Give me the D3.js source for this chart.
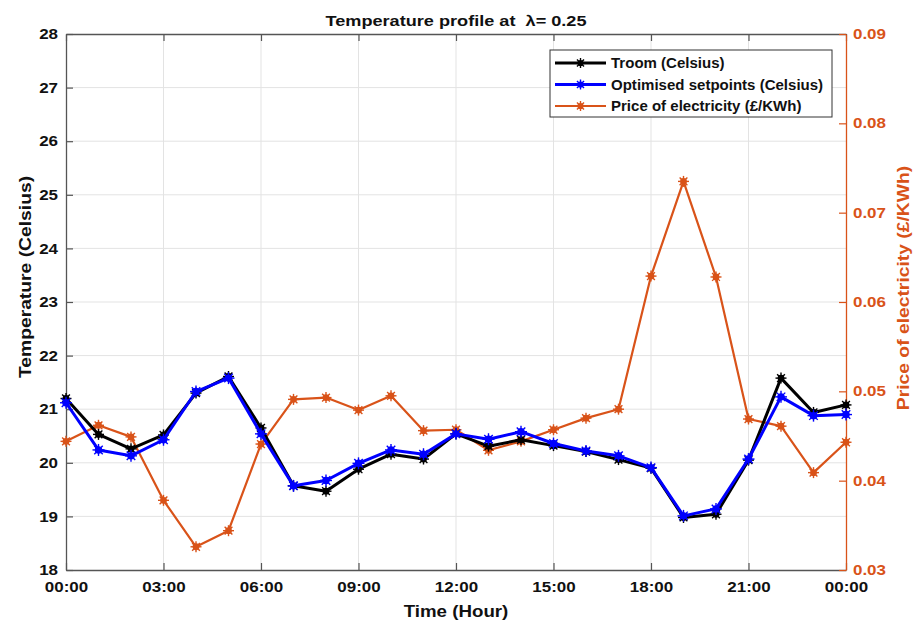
<!DOCTYPE html>
<html>
<head>
<meta charset="utf-8">
<script src="https://cdn.jsdelivr.net/npm/d3@7"></script>
<style>
  html, body { margin: 0; padding: 0; background: #ffffff; }
  svg { display: block; font-family: "Liberation Sans", Arial, sans-serif; }
</style>
</head>
<body>
<svg id="chart" width="915" height="624"></svg>
<script>
// Hourly samples over one day
const hours = [0, 1, 2, 3, 4, 5, 6, 7, 8, 9, 10, 11, 12, 13, 14, 15, 16, 17, 18, 19, 20, 21, 22, 23, 24];

// Room temperature (Celsius)
const troom = [21.20, 20.53, 20.26, 20.52, 21.30, 21.61, 20.65, 19.57, 19.47, 19.88, 20.16, 20.07, 20.54,
               20.31, 20.43, 20.32, 20.21, 20.06, 19.90, 18.98, 19.04, 20.05, 21.58, 20.94, 21.08];

// Optimised setpoints (Celsius)
const setpoints = [21.12, 20.24, 20.13, 20.43, 21.33, 21.58, 20.54, 19.57, 19.67, 19.99, 20.24, 20.16, 20.54,
                   20.44, 20.58, 20.36, 20.22, 20.13, 19.91, 19.01, 19.14, 20.07, 21.23, 20.88, 20.90];

// Price of electricity (£/KWh)
const price = [0.0444, 0.0462, 0.0449, 0.0378, 0.0326, 0.0344, 0.0441, 0.0491, 0.0493, 0.0479, 0.0495, 0.0456, 0.0457,
               0.0434, 0.0444, 0.0457, 0.0470, 0.0480, 0.0629, 0.0735, 0.0628, 0.0469, 0.0461, 0.0409, 0.0443];

// Axis ticks
const xTicks = [0, 3, 6, 9, 12, 15, 18, 21, 24];
const xTickLabels = ["00:00", "03:00", "06:00", "09:00", "12:00", "15:00", "18:00", "21:00", "00:00"];
const tempTicks = [18, 19, 20, 21, 22, 23, 24, 25, 26, 27, 28];
const priceTicks = [0.03, 0.04, 0.05, 0.06, 0.07, 0.08, 0.09];

const seriesNames = ["Troom (Celsius)", "Optimised setpoints (Celsius)", "Price of electricity (£/KWh)"];

const ORANGE = "#D95319";
const AXIS = "#555555";
const GRID = "#e3e3e3";
const WIDEN = 1.17;   // horizontal widening of the lettering

const svg = d3.select("#chart");
const plotL = 66, plotR = 846, plotT = 34, plotB = 570;

const x = d3.scaleLinear().domain([0, 24]).range([plotL, plotR]);
const yT = d3.scaleLinear().domain([18, 28]).range([plotB, plotT]);
const yP = d3.scaleLinear().domain([0.03, 0.09]).range([plotB, plotT]);

// grid
const grid = svg.append("g");
grid.selectAll("line.gx").data(xTicks.slice(1, -1)).join("line")
  .attr("x1", d => x(d)).attr("x2", d => x(d))
  .attr("y1", plotT).attr("y2", plotB)
  .attr("stroke", GRID).attr("stroke-width", 1);
grid.selectAll("line.gy").data(tempTicks.slice(1, -1)).join("line")
  .attr("y1", d => yT(d)).attr("y2", d => yT(d))
  .attr("x1", plotL).attr("x2", plotR)
  .attr("stroke", GRID).attr("stroke-width", 1);

// axes
function styleAxis(g, color) {
  g.select(".domain").attr("stroke", color).attr("stroke-width", 1.3);
  g.selectAll(".tick line").attr("stroke", color).attr("stroke-width", 1.2);
  g.selectAll(".tick text")
    .attr("fill", color === ORANGE ? ORANGE : "#111")
    .attr("font-size", 14.5).attr("font-weight", "bold")
    .each(function () {
      const t = d3.select(this);
      const tx = +t.attr("x") || 0;
      t.attr("x", tx / WIDEN).attr("transform", `scale(${WIDEN},1)`);
    });
}

const xAxis = svg.append("g").attr("transform", `translate(0,${plotB})`)
  .call(d3.axisBottom(x).tickValues(xTicks).tickFormat((d, i) => xTickLabels[i])
    .tickSizeInner(-7).tickSizeOuter(0).tickPadding(12));
styleAxis(xAxis, AXIS);

const xTop = svg.append("g").attr("transform", `translate(0,${plotT})`)
  .call(d3.axisTop(x).tickValues(xTicks).tickFormat("").tickSizeInner(-7).tickSizeOuter(0));
styleAxis(xTop, AXIS);

const yAxisL = svg.append("g").attr("transform", `translate(${plotL},0)`)
  .call(d3.axisLeft(yT).tickValues(tempTicks).tickFormat(d3.format("d"))
    .tickSizeInner(-7).tickSizeOuter(0).tickPadding(8));
styleAxis(yAxisL, AXIS);

const yAxisR = svg.append("g").attr("transform", `translate(${plotR},0)`)
  .call(d3.axisRight(yP).tickValues(priceTicks).tickFormat(d3.format(".2f"))
    .tickSizeInner(-7).tickSizeOuter(0).tickPadding(7));
styleAxis(yAxisR, ORANGE);

// asterisk-style marker
function marker(g, cx, cy, color, r) {
  const m = g.append("g").attr("transform", `translate(${cx},${cy})`);
  m.append("circle").attr("r", r * 0.62).attr("fill", color);
  [0, 45, 90, 135].forEach(a => {
    const rad = a * Math.PI / 180;
    m.append("line")
      .attr("x1", -r * Math.cos(rad)).attr("y1", -r * Math.sin(rad))
      .attr("x2", r * Math.cos(rad)).attr("y2", r * Math.sin(rad))
      .attr("stroke", color).attr("stroke-width", 1.4);
  });
}

function drawSeries(values, yScale, color, width, r) {
  const g = svg.append("g");
  const line = d3.line().x((d, i) => x(hours[i])).y(d => yScale(d));
  g.append("path").datum(values).attr("d", line)
    .attr("fill", "none").attr("stroke", color).attr("stroke-width", width)
    .attr("stroke-linejoin", "round");
  values.forEach((v, i) => marker(g, x(hours[i]), yScale(v), color, r));
}

drawSeries(price, yP, ORANGE, 2.2, 5.5);
drawSeries(troom, yT, "#000000", 3, 5.5);
drawSeries(setpoints, yT, "#0000ff", 3, 6);

// title and axis labels
function label(transform, size, color, str) {
  return svg.append("text")
    .attr("transform", `${transform} scale(${WIDEN},1)`)
    .attr("text-anchor", "middle")
    .attr("font-size", size).attr("font-weight", "bold").attr("fill", color)
    .style("white-space", "pre")
    .text(str);
}

label("translate(456,26)", 15.5, "#111", "Temperature profile at  λ= 0.25");
label("translate(456,617)", 16, "#111", "Time (Hour)");
label("translate(31,277) rotate(-90)", 16.5, "#111", "Temperature (Celsius)");
label("translate(909,288) rotate(-90)", 16.5, ORANGE, "Price of electricity (£/KWh)");

// legend
const leg = svg.append("g");
leg.append("rect").attr("x", 550).attr("y", 50).attr("width", 282).attr("height", 67)
  .attr("fill", "#fff").attr("stroke", "#333").attr("stroke-width", 1);
const legColors = ["#000000", "#0000ff", ORANGE];
const legWidths = [3, 3, 2.2];
seriesNames.forEach((name, i) => {
  const yy = 63 + i * 21.5;
  leg.append("line").attr("x1", 555).attr("x2", 606).attr("y1", yy).attr("y2", yy)
    .attr("stroke", legColors[i]).attr("stroke-width", legWidths[i]);
  marker(leg, 580.5, yy, legColors[i], 5);
  leg.append("text")
    .attr("transform", `translate(611,${yy + 5}) scale(1.09,1)`)
    .attr("font-size", 13.8)
    .attr("font-weight", "bold").attr("fill", "#111").text(name);
});
</script>
</body>
</html>
